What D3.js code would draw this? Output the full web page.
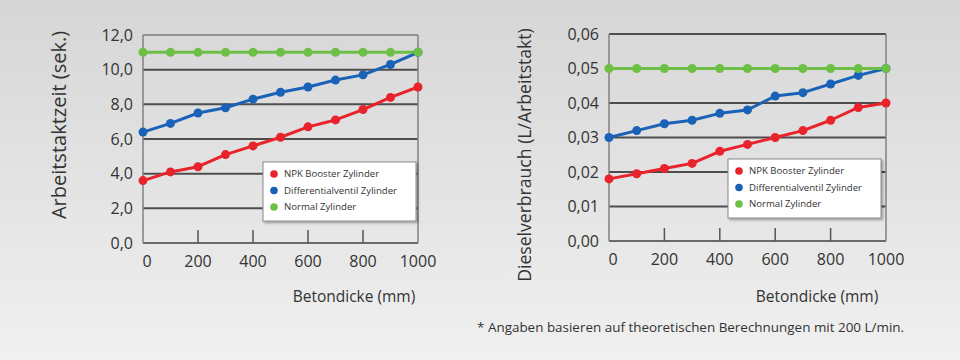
<!DOCTYPE html>
<html><head><meta charset="utf-8">
<script src="https://cdn.jsdelivr.net/npm/d3@7"></script>
<style>html,body{margin:0;padding:0;overflow:hidden;}svg{display:block;font-family:"Open Sans",sans-serif;}</style>
</head><body>
<script>
const thickness = [0,100,200,300,400,500,600,700,800,900,1000];
const seriesNames = ["NPK Booster Zylinder","Differentialventil Zylinder","Normal Zylinder"];
const seriesColors = ["#e8232b","#1a62b8","#6dbf45"];
// Chart 1: Arbeitstaktzeit (sek.)
const timeNPK    = [3.6,4.1,4.4,5.1,5.6,6.1,6.7,7.1,7.7,8.4,9.0];
const timeDiff   = [6.4,6.9,7.5,7.8,8.3,8.7,9.0,9.4,9.7,10.3,11.0];
const timeNormal = [11.0,11.0,11.0,11.0,11.0,11.0,11.0,11.0,11.0,11.0,11.0];
const timeTicks  = [0,2,4,6,8,10,12];
// Chart 2: Dieselverbrauch (L/Arbeitstakt)
const fuelNPK    = [0.018,0.0195,0.021,0.0225,0.026,0.028,0.030,0.032,0.035,0.0387,0.040];
const fuelDiff   = [0.030,0.032,0.034,0.035,0.037,0.038,0.042,0.043,0.0455,0.048,0.050];
const fuelNormal = [0.05,0.05,0.05,0.05,0.05,0.05,0.05,0.05,0.05,0.05,0.05];
const fuelTicks  = [0,0.01,0.02,0.03,0.04,0.05,0.06];
const xTicks = [0,200,400,600,800,1000];
const xTitle = "Betondicke (mm)";
const footnote = "* Angaben basieren auf theoretischen Berechnungen mit 200 L/min.";

const W = 960, H = 360;
const svg = d3.select("body").append("svg").attr("width", W).attr("height", H);
const defs = svg.append("defs");
const grad = defs.append("linearGradient").attr("id","bg").attr("x1",0).attr("y1",0).attr("x2",0).attr("y2",1);
grad.append("stop").attr("offset","0%").attr("stop-color","#d6d6d6");
grad.append("stop").attr("offset","100%").attr("stop-color","#f0f0f0");
const sh = defs.append("filter").attr("id","shadow").attr("x","-10%").attr("y","-10%").attr("width","130%").attr("height","140%");
sh.append("feDropShadow").attr("dx",1.5).attr("dy",1.5).attr("stdDeviation",1).attr("flood-color","#000").attr("flood-opacity",0.35);
svg.append("rect").attr("width",W).attr("height",H).attr("fill","url(#bg)");

function drawChart(cfg){
  const x = d3.scaleLinear().domain([0,1000]).range([cfg.left, cfg.right]);
  const y = d3.scaleLinear().domain([cfg.ticks[0], cfg.ticks[cfg.ticks.length-1]]).range([cfg.bottom, cfg.top]);
  const g = svg.append("g");
  // grid
  g.append("g").selectAll("line").data(cfg.ticks.slice(1,-1)).join("line")
    .attr("x1",cfg.left).attr("x2",cfg.right).attr("y1",d=>y(d)).attr("y2",d=>y(d))
    .attr("stroke","#4d4d4d").attr("stroke-width",2);
  // frame
  g.append("line").attr("x1",cfg.left).attr("x2",cfg.right).attr("y1",cfg.top).attr("y2",cfg.top)
    .attr("stroke",cfg.topColor).attr("stroke-width",1.5);
  g.append("line").attr("x1",cfg.left).attr("x2",cfg.right).attr("y1",cfg.bottom).attr("y2",cfg.bottom)
    .attr("stroke","#6a6a6a").attr("stroke-width",2);
  g.append("line").attr("x1",cfg.left).attr("x2",cfg.left).attr("y1",cfg.top).attr("y2",cfg.bottom)
    .attr("stroke","#808080").attr("stroke-width",1.5);
  g.append("line").attr("x1",cfg.right).attr("x2",cfg.right).attr("y1",cfg.top).attr("y2",cfg.bottom)
    .attr("stroke","#808080").attr("stroke-width",1.5);
  // bottom tick marks
  g.append("g").selectAll("line").data(xTicks.slice(1,-1)).join("line")
    .attr("x1",d=>x(d)).attr("x2",d=>x(d)).attr("y1",cfg.bottom).attr("y2",cfg.bottom-13)
    .attr("stroke","#555").attr("stroke-width",1.5);
  // y tick labels
  g.append("g").selectAll("text").data(cfg.ticks).join("text")
    .attr("x",cfg.left-10).attr("y",d=>y(d)).attr("dy","0.35em").attr("text-anchor","end")
    .attr("font-size",16).attr("fill","#333").text(d=>cfg.fmt(d));
  // x tick labels
  g.append("g").selectAll("text").data(xTicks).join("text")
    .attr("x",(d,i)=>x(d)+(i===0?4:0)).attr("y",cfg.bottom+24).attr("text-anchor","middle")
    .attr("font-size",16).attr("fill","#333").text(d=>d);
  // axis titles
  g.append("text").attr("x",cfg.xTitleX).attr("y",302).attr("text-anchor","middle")
    .attr("font-size",15.5).attr("fill","#333").text(xTitle);
  g.append("text").attr("transform",`translate(${cfg.yTitleX},${cfg.yTitleY}) rotate(-90)`)
    .attr("text-anchor","middle").attr("font-size",cfg.yTitleSize).attr("fill","#333").text(cfg.yTitle);
  // series
  const line = d3.line().x((d,i)=>x(thickness[i])).y(d=>y(d));
  cfg.series.forEach((vals,si)=>{
    g.append("path").datum(vals).attr("d",line).attr("fill","none")
      .attr("stroke",seriesColors[si]).attr("stroke-width",3).attr("stroke-linejoin","round");
  });
  cfg.series.forEach((vals,si)=>{
    g.append("g").selectAll("circle").data(vals).join("circle")
      .attr("cx",(d,i)=>x(thickness[i])).attr("cy",d=>y(d)).attr("r",4.5).attr("fill",seriesColors[si]);
  });
  // legend
  const lg = g.append("g").attr("transform",`translate(${cfg.legX},${cfg.legY})`);
  lg.append("rect").attr("width",153).attr("height",59).attr("fill","#fff")
    .attr("stroke","#8a8a8a").attr("stroke-width",1).attr("filter","url(#shadow)");
  seriesNames.forEach((n,i)=>{
    lg.append("circle").attr("cx",11).attr("cy",12+i*16.5).attr("r",3.8).attr("fill",seriesColors[i]);
    lg.append("text").attr("x",21).attr("y",12+i*16.5).attr("dy","0.35em")
      .attr("font-size",9.6).attr("fill","#333").text(n);
  });
}

drawChart({left:143,right:418,top:35,bottom:243,ticks:timeTicks,
  fmt:d=>d3.format(".1f")(d).replace(".",","),
  series:[timeNPK,timeDiff,timeNormal],topColor:"#7a7a7a",
  xTitleX:354,yTitleX:66,yTitleY:125,yTitleSize:20,yTitle:"Arbeitstaktzeit (sek.)",
  legX:263,legY:162});
drawChart({left:609,right:886,top:34,bottom:241,ticks:fuelTicks,
  fmt:d=>d3.format(".2f")(d).replace(".",","),
  series:[fuelNPK,fuelDiff,fuelNormal],topColor:"#222",
  xTitleX:817,yTitleX:531,yTitleY:155,yTitleSize:17.6,yTitle:"Dieselverbrauch (L/Arbeitstakt)",
  legX:728,legY:159});

svg.append("text").attr("x",477).attr("y",332).attr("font-size",13.45).attr("fill","#333").text(footnote);
</script>
</body></html>
